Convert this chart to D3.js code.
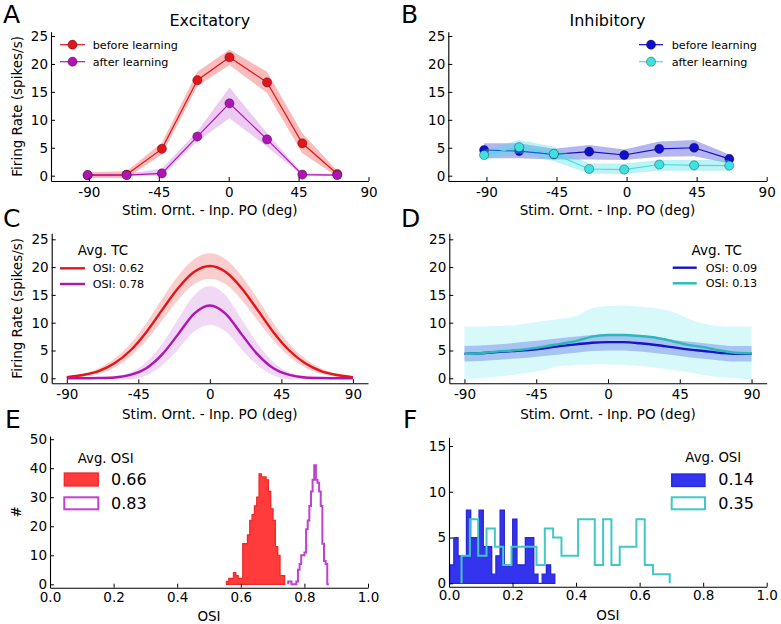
<!DOCTYPE html>
<html><head><meta charset="utf-8">
<script src="https://cdn.jsdelivr.net/npm/d3@7"></script>
<style>body{margin:0;background:#fff} svg{display:block}</style>
</head><body><svg id="fig" width="781" height="624"></svg>
<script>
// ---------- DATA ----------
// Panel A (excitatory, binned tuning curves)
const angleA = [-90.8, -65.7, -43, -20.2, 0.5, 24.7, 47.4, 69.9];
const excBefore   = [0.1, 0.2, 4.8, 17.1, 21.2, 16.7, 5.8, 0.3];
const excBeforeLo = [-0.4, -0.4, 3.8, 16.0, 19.8, 14.8, 4.0, -0.2];
const excBeforeHi = [0.6, 0.8, 5.9, 18.6, 22.6, 18.6, 7.6, 0.9];
const excAfter    = [0.1, 0.1, 0.4, 7.0, 12.95, 6.5, 0.2, 0.1];
const excAfterLo  = [-0.1, -0.1, 0.0, 6.1, 10.3, 5.2, 0.0, -0.1];
const excAfterHi  = [0.3, 0.3, 1.3, 7.9, 15.8, 7.6, 0.5, 0.3];
// Panel B (inhibitory, binned tuning curves)
const angleB = [-91.5, -69, -46.7, -24, -1.5, 21, 43.4, 66];
const inhBefore   = [4.6, 4.4, 3.8, 4.3, 3.7, 4.8, 5.0, 3.0];
const inhBeforeLo = [3.1, 3.1, 2.9, 2.9, 2.8, 3.4, 3.5, 2.2];
const inhBeforeHi = [5.8, 5.8, 4.8, 5.5, 4.7, 6.1, 6.4, 3.8];
const inhAfter    = [3.7, 5.1, 3.9, 1.2, 1.1, 2.0, 1.85, 1.8];
const inhAfterLo  = [2.9, 4.0, 2.6, 0.4, 0.3, 0.9, 0.9, 0.9];
const inhAfterHi  = [4.6, 6.4, 5.2, 2.2, 2.2, 2.8, 2.8, 2.8];
// Panels C, D (average tuning curves)
const angleTC = [-90,-80,-70,-60,-50,-40,-30,-20,-10,0,10,20,30,40,50,60,70,80,90];
const excTC     = [0.2,0.6,1.3,2.7,5.0,8.3,12.3,16.2,19.1,20.2,19.1,16.2,12.3,8.3,5.0,2.7,1.3,0.6,0.2];
const excTCHi   = [0.3,0.8,1.8,3.5,6.2,9.9,14.3,18.4,21.4,22.5,21.4,18.4,14.3,9.9,6.2,3.5,1.8,0.8,0.3];
const excTCLo   = [0.0,0.3,0.8,1.9,3.9,6.8,10.4,14.1,16.9,17.9,16.9,14.1,10.4,6.8,3.9,1.9,0.8,0.3,0.0];
const excTCAfter   = [0,0,0.05,0.15,0.6,1.8,4.3,7.9,11.6,13.1,11.6,7.9,4.3,1.8,0.6,0.15,0.05,0,0];
const excTCAfterHi = [0,0.05,0.1,0.4,1.1,2.9,6.2,10.6,14.9,16.6,14.9,10.6,6.2,2.9,1.1,0.4,0.1,0.05,0];
const excTCAfterLo = [0,-0.05,-0.1,-0.2,-0.2,0.5,2.4,5.2,8.4,9.6,8.4,5.2,2.4,0.5,-0.2,-0.2,-0.1,-0.05,0];
const inhTC     = [4.4,4.5,4.7,4.9,5.1,5.4,5.8,6.1,6.4,6.5,6.5,6.3,6.0,5.6,5.2,4.9,4.6,4.4,4.4];
const inhTCHi   = [5.8,5.9,6.1,6.3,6.6,6.9,7.2,7.5,7.8,7.9,7.9,7.7,7.4,7.0,6.6,6.3,6.0,5.8,5.8];
const inhTCLo   = [3.0,3.1,3.3,3.5,3.7,4.0,4.3,4.6,4.9,5.0,5.0,4.8,4.5,4.2,3.8,3.5,3.2,3.0,3.0];
const inhTCAfter   = [4.4,4.5,4.8,5.0,5.3,5.7,6.2,6.7,7.5,7.8,7.8,7.6,7.3,6.7,6.0,5.6,5.0,4.6,4.5];
const inhTCAfterHi = [9.3,9.3,9.4,9.5,9.9,10.3,10.7,11.2,12.6,13.0,13.1,12.9,12.6,12.0,10.8,9.8,9.4,9.3,9.3];
const inhTCAfterLo = [-0.2,0.0,0.3,0.6,1.0,1.5,2.2,2.4,2.5,2.5,2.4,2.2,1.9,1.5,1.1,0.6,0.2,0.0,-0.2];
// Panels E, F (OSI histograms): bin range and counts
const excOSIRange = [0.555, 0.738];
const excOSICounts = [1,2,2,4,3,2,2,14,14,17,22,24,27,30,38,37,37,36,32,26,22,13,10,3,3];
const excOSIAfterRange = [0.749, 0.877];
const excOSIAfterCounts = [1,1,0,0,0,1,5,7,10,10,11,19,22,27,32,36,41,36,35,32,27,14,8,7,0];
const inhOSIRange = [0.002, 0.333];
const inhOSICounts = [2,5,3,3,8,5,5,8,4,4,1,3,8,2,2,7,2,2,5,5,1,0,1,2,1];
const inhOSIAfterRange = [0.0395, 0.6947];
const inhOSIAfterCounts = [3,7,3,6,4,2,4,4,4,2,6,5,3,3,7,7,2,7,2,4,4,7,2,1,1];
// legend / tick labels
const xTicksDeg = [-90,-45,0,45,90];
const yTicksRate = [0,5,10,15,20,25];
const xTicksOSI = [0,0.2,0.4,0.6,0.8,1.0];
const yTicksE = [0,10,20,30,40,50];
const yTicksF = [0,5,10,15];
const legendA = ["before learning","after learning"];
const legendC = ["OSI: 0.62","OSI: 0.78"];
const legendD = ["OSI: 0.09","OSI: 0.13"];
const legendE = ["0.66","0.83"];
const legendF = ["0.14","0.35"];

// ---------- DRAWING ----------
const FONT = "DejaVu Sans";
const svg = d3.select("#fig");
svg.append("rect").attr("width",781).attr("height",624).attr("fill","#fff");

function axes(p){
  const x = d3.scaleLinear().domain(p.xdom).range([p.left,p.right]);
  const y = d3.scaleLinear().domain(p.ydom).range([p.bottom,p.top]);
  const g = svg.append("g");
  const plot = g.append("g");
  const ax = g.append("g").attr("transform",`translate(0,${p.bottom})`)
    .call(d3.axisBottom(x).tickValues(p.xticks).tickFormat(p.xfmt).tickSizeInner(-4).tickSizeOuter(0).tickPadding(p.xpad));
  const ay = g.append("g").attr("transform",`translate(${p.left},0)`)
    .call(d3.axisLeft(y).tickValues(p.yticks).tickFormat(d=>String(d)).tickSizeInner(-4).tickSizeOuter(0).tickPadding(3));
  [ax,ay].forEach(a=>{
    a.attr("font-family",FONT).attr("font-size",13.5);
    a.selectAll("text").attr("fill","#000");
    a.selectAll("line").attr("stroke","#000");
    a.select(".domain").attr("stroke","#000").attr("stroke-width",1.1);
  });
  if(p.xlabel) g.append("text").attr("x",(p.left+p.right)/2).attr("y",p.xlabY).attr("text-anchor","middle")
     .attr("font-family",FONT).attr("font-size",13.5).text(p.xlabel);
  if(p.ylabel) g.append("text").attr("transform",`translate(${p.ylabX},${(p.top+p.bottom)/2}) rotate(-90)`)
     .attr("text-anchor","middle").attr("dy","0.35em").attr("font-family",FONT).attr("font-size",13.5).text(p.ylabel);
  g.append("text").attr("x",p.letterX).attr("y",p.letterY).attr("font-family",FONT).attr("font-size",25).text(p.letter);
  if(p.title) g.append("text").attr("x",(p.left+p.right)/2).attr("y",26).attr("text-anchor","middle")
     .attr("font-family",FONT).attr("font-size",16).text(p.title);
  return {x,y,plot,g};
}
const fmtDeg = d=>String(d);
const fmtOSI = d3.format(".1f");
const XL = "Stim. Ornt. - Inp. PO (deg)", YL = "Firing Rate (spikes/s)";

// band helper
function band(ax, xs, lo, hi, fill, op, curve){
  const data = xs.map((v,i)=>({x:v,lo:lo[i],hi:hi[i]}));
  ax.plot.append("path").datum(data)
    .attr("d", d3.area().x(d=>ax.x(d.x)).y0(d=>ax.y(d.lo)).y1(d=>ax.y(d.hi)).curve(curve))
    .attr("fill",fill).attr("fill-opacity",op).attr("stroke","none");
}
function line(ax, xs, ys, color, w, curve){
  const data = xs.map((v,i)=>({x:v,y:ys[i]}));
  ax.plot.append("path").datum(data)
    .attr("d", d3.line().x(d=>ax.x(d.x)).y(d=>ax.y(d.y)).curve(curve))
    .attr("fill","none").attr("stroke",color).attr("stroke-width",w);
}
function markers(ax, xs, ys, color){
  ax.plot.selectAll(null).data(xs.map((v,i)=>({x:v,y:ys[i]}))).enter().append("circle")
    .attr("cx",d=>ax.x(d.x)).attr("cy",d=>ax.y(d.y)).attr("r",4.6)
    .attr("fill",color).attr("stroke","#000").attr("stroke-width",0.6).attr("stroke-opacity",0.55);
}
function binEdges(range, n){ return d3.range(n+1).map(i=>range[0]+(range[1]-range[0])*i/n); }
function histFilled(ax, range, counts, fill, stroke){
  const e = binEdges(range, counts.length);
  const pts = counts.map((c,i)=>({x:e[i],y:c})).concat([{x:e[counts.length],y:0}]);
  ax.plot.append("path").datum(pts)
    .attr("d", d3.area().x(d=>ax.x(d.x)).y0(ax.y(0)).y1(d=>ax.y(d.y)).curve(d3.curveStepAfter))
    .attr("fill",fill).attr("stroke",stroke).attr("stroke-width",1.3).attr("stroke-linejoin","miter");
}
function histStep(ax, range, counts, stroke){
  const e = binEdges(range, counts.length);
  const pts = [{x:e[0],y:0}].concat(counts.map((c,i)=>({x:e[i],y:c}))).concat([{x:e[counts.length],y:0}]);
  ax.plot.append("path").datum(pts)
    .attr("d", d3.line().x(d=>ax.x(d.x)).y(d=>ax.y(d.y)).curve(d3.curveStepAfter))
    .attr("fill","none").attr("stroke",stroke).attr("stroke-width",2);
}

// colors
const RED="#e3151b", REDBAND="#f03c3c", PUR="#b014b4", PURBAND="#c050d0";
const BLUE="#0f0fcc", BLUEBAND="#4848d8", CYAN="#3ee0e0", CYANBAND="#3ee0e6";
const BLUE_D="#1414c8", CYAN_D="#2ab8b8";

// ---- Panel A ----
const A = axes({left:51,right:368.5,top:31.7,bottom:181,xdom:[-114.4,90],ydom:[-0.95,25.77],
  xticks:xTicksDeg,yticks:yTicksRate,xfmt:fmtDeg,xpad:6.5,xlabel:XL,xlabY:215,ylabel:YL,ylabX:17,
  letter:"A",letterX:3,letterY:23,title:"Excitatory"});
band(A, angleA, excBeforeLo, excBeforeHi, REDBAND, 0.35, d3.curveLinear);
line(A, angleA, excBefore, RED, 1.2, d3.curveLinear);
markers(A, angleA, excBefore, RED);
band(A, angleA, excAfterLo, excAfterHi, PURBAND, 0.3, d3.curveLinear);
line(A, angleA, excAfter, PUR, 1.2, d3.curveLinear);
markers(A, angleA, excAfter, PUR);

// ---- Panel B ----
const B = axes({left:448.3,right:766.7,top:31.7,bottom:181,xdom:[-114.5,90],ydom:[-0.95,25.77],
  xticks:xTicksDeg,yticks:yTicksRate,xfmt:fmtDeg,xpad:6.5,xlabel:XL,xlabY:215,
  letter:"B",letterX:401,letterY:23,title:"Inhibitory"});
band(B, angleB, inhBeforeLo, inhBeforeHi, BLUEBAND, 0.4, d3.curveLinear);
line(B, angleB, inhBefore, BLUE, 1.2, d3.curveLinear);
markers(B, angleB, inhBefore, BLUE);
band(B, angleB, inhAfterLo, inhAfterHi, CYANBAND, 0.35, d3.curveLinear);
line(B, angleB, inhAfter, CYAN, 1.2, d3.curveLinear);
markers(B, angleB, inhAfter, CYAN);

// ---- Panel C ----
const C = axes({left:51.7,right:368,top:233.3,bottom:383.3,xdom:[-99.5,99.5],ydom:[-0.9,26.08],
  xticks:xTicksDeg,yticks:yTicksRate,xfmt:fmtDeg,xpad:6.5,xlabel:XL,xlabY:418.5,ylabel:YL,ylabX:17,
  letter:"C",letterX:3,letterY:227});
band(C, angleTC, excTCLo, excTCHi, REDBAND, 0.25, d3.curveMonotoneX);
line(C, angleTC, excTC, RED, 2.4, d3.curveMonotoneX);
band(C, angleTC, excTCAfterLo, excTCAfterHi, PURBAND, 0.22, d3.curveMonotoneX);
line(C, angleTC, excTCAfter, PUR, 2.4, d3.curveMonotoneX);

// ---- Panel D ----
const D = axes({left:449.3,right:766.7,top:233.3,bottom:383.3,xdom:[-99.5,99.5],ydom:[-0.9,26.08],
  xticks:xTicksDeg,yticks:yTicksRate,xfmt:fmtDeg,xpad:6.5,xlabel:XL,xlabY:418.5,
  letter:"D",letterX:401,letterY:227});
band(D, angleTC, inhTCAfterLo, inhTCAfterHi, CYANBAND, 0.2, d3.curveMonotoneX);
band(D, angleTC, inhTCLo, inhTCHi, "#4a5ee0", 0.35, d3.curveMonotoneX);
line(D, angleTC, inhTC, BLUE_D, 2.4, d3.curveMonotoneX);
line(D, angleTC, inhTCAfter, CYAN_D, 2.4, d3.curveMonotoneX);

// ---- Panel E ----
const E = axes({left:50,right:368,top:436,bottom:587.7,xdom:[0,1],ydom:[-1.17,51.1],
  xticks:xTicksOSI,yticks:yTicksE,xfmt:fmtOSI,xpad:4.5,xlabel:"OSI",xlabY:621,ylabel:"#",ylabX:16,
  letter:"E",letterX:5,letterY:428});
histFilled(E, excOSIRange, excOSICounts, "#ff3b3b", "#ee2a2a");
histStep(E, excOSIAfterRange, excOSIAfterCounts, "#c040d0");

// ---- Panel F ----
const F = axes({left:449,right:766.7,top:437.3,bottom:586.7,xdom:[0,1],ydom:[-0.37,15.95],
  xticks:xTicksOSI,yticks:yTicksF,xfmt:fmtOSI,xpad:4,xlabel:"OSI",xlabY:620,
  letter:"F",letterX:403,letterY:428});
histFilled(F, inhOSIRange, inhOSICounts, "#3434ee", "#2626d8");
histStep(F, inhOSIAfterRange, inhOSIAfterCounts, "#40c8c8");

// ---------- LEGENDS ----------
function txt(x,y,s,size,anchor){
  return svg.append("text").attr("x",x).attr("y",y).attr("font-family",FONT).attr("font-size",size)
    .attr("text-anchor",anchor||"start").text(s);
}
// A legend
[[RED,44.7],[PUR,61.7]].forEach(([c,yy],i)=>{
  svg.append("line").attr("x1",60).attr("x2",85).attr("y1",yy).attr("y2",yy).attr("stroke",c).attr("stroke-width",1.2);
  svg.append("circle").attr("cx",72.5).attr("cy",yy).attr("r",4.6).attr("fill",c).attr("stroke","#000").attr("stroke-width",0.6).attr("stroke-opacity",0.55);
  txt(92.7,yy+4.2,legendA[i],11.2);
});
// B legend
[[BLUE,44.7],[CYAN,61.7]].forEach(([c,yy],i)=>{
  svg.append("line").attr("x1",639).attr("x2",663).attr("y1",yy).attr("y2",yy).attr("stroke",c).attr("stroke-width",1.2);
  svg.append("circle").attr("cx",651).attr("cy",yy).attr("r",4.6).attr("fill",c).attr("stroke","#000").attr("stroke-width",0.6).attr("stroke-opacity",0.55);
  txt(671.7,yy+4.2,legendA[i],11.2);
});
// C legend
txt(103,255,"Avg. TC",13.5,"middle");
[[RED,268.3],[PUR,284]].forEach(([c,yy],i)=>{
  svg.append("line").attr("x1",60).attr("x2",85).attr("y1",yy).attr("y2",yy).attr("stroke",c).attr("stroke-width",2.4);
  txt(92.7,yy+4.1,legendC[i],11.2);
});
// D legend
txt(716.7,254.5,"Avg. TC",13.5,"middle");
[[BLUE_D,267.7],[CYAN_D,283.3]].forEach(([c,yy],i)=>{
  svg.append("line").attr("x1",672.7).attr("x2",696.7).attr("y1",yy).attr("y2",yy).attr("stroke",c).attr("stroke-width",2.4);
  txt(705.7,yy+4.1,legendD[i],11.2);
});
// E legend
txt(105.7,462.7,"Avg. OSI",13.3,"middle");
svg.append("rect").attr("x",64.3).attr("y",473).attr("width",34).attr("height",13).attr("fill","#ff3b3b").attr("stroke","#ee2a2a").attr("stroke-width",1.3);
svg.append("rect").attr("x",64.3).attr("y",497.3).attr("width",34).attr("height",12).attr("fill","#fff").attr("stroke","#c040d0").attr("stroke-width",2);
txt(111,485.3,legendE[0],16);
txt(111,509.3,legendE[1],16);
// F legend
txt(713.3,461.7,"Avg. OSI",13.3,"middle");
svg.append("rect").attr("x",671.7).attr("y",474).attr("width",33.3).attr("height",12.5).attr("fill","#3434ee").attr("stroke","#2626d8").attr("stroke-width",1.3);
svg.append("rect").attr("x",671.7).attr("y",497.3).attr("width",33.3).attr("height",12).attr("fill","#fff").attr("stroke","#40c8c8").attr("stroke-width",2);
txt(718.3,485.3,legendF[0],16);
txt(718.3,509.3,legendF[1],16);
</script>
</body></html>
